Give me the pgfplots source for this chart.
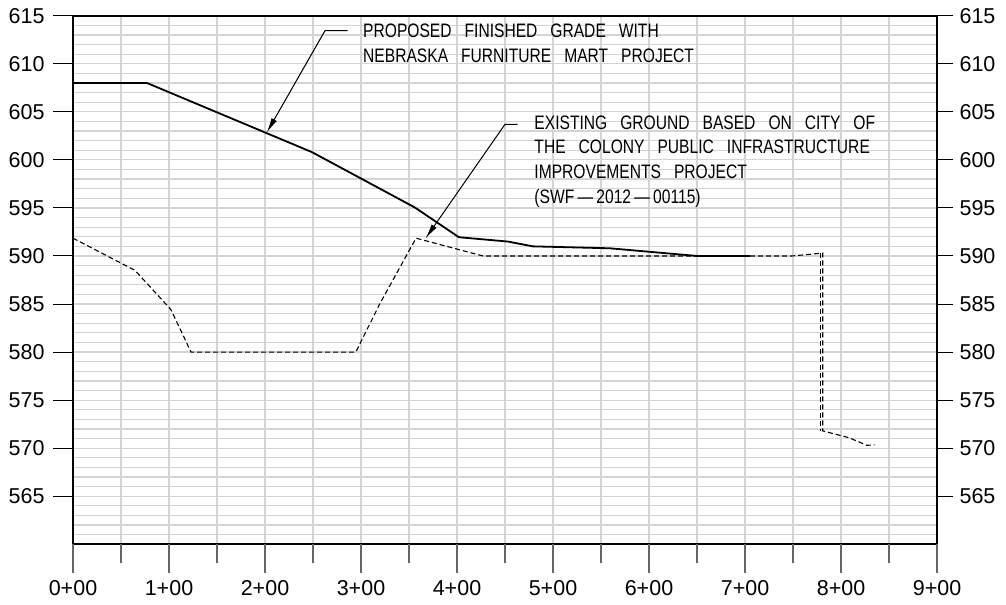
\documentclass[border=0pt]{standalone}
\usepackage{pgfplots}
\pgfplotsset{compat=1.18}
\usetikzlibrary{arrows.meta}
\usepackage{fontspec}
\setmainfont{Liberation Sans}
\newfontfamily\tickfont{Liberation Sans}
\newfontfamily\cadfont[FakeStretch=0.8,WordSpace=3]{Liberation Sans}

\pgfplotsset{
  prof/.style={width=864pt, height=528.6pt, scale only axis,
    xmin=0, xmax=9, ymin=560, ymax=615},
  lbl/.style={font=\tickfont\fontsize{21.5}{24}\selectfont},
}

\begin{document}
\begin{tikzpicture}
% grid, frame and profiles
\begin{axis}[prof,
  clip=false,
  axis line style={line width=1.8pt},
  xtick={0,0.5,...,9}, ytick={560,561,...,615},
  xticklabels={}, yticklabels={},
  major tick length=0pt,
  grid=major, grid style={line width=1.2pt, color=black!17},
]
% proposed finished grade
\addplot[black, line width=1.8pt] coordinates {
  (0,608) (0.77,608) (2.49,600.8) (3.56,595.05) (4.02,591.95) (4.53,591.5)
  (4.79,591.0) (5.59,590.8) (6.5,590.0) (7.05,590.0)};
% existing ground
\addplot[black, line width=1.1pt, dash pattern=on 5pt off 3pt] coordinates {
  (0,591.85) (0.646,588.5) (1.018,584.45) (1.23,580) (2.945,580) (3.2,585.1)
  (3.573,591.85) (4.27,590.0) (7.49,590.0) (7.81,590.3) (7.81,571.8)
  (8.08,571.1) (8.27,570.3) (8.35,570.35)};
\addplot[black, line width=1.1pt, dash pattern=on 5pt off 3pt] coordinates {
  (7.785,590.3) (7.785,571.8)};

% leaders
\draw[line width=1pt, -{Latex[length=15pt,width=6pt]}]
  (axis cs:2.861,613.44) -- (axis cs:2.625,613.44) -- (axis cs:2.018,602.83);
\draw[line width=1pt, -{Latex[length=15pt,width=6pt]}]
  (axis cs:4.632,603.70) -- (axis cs:4.5,603.70) -- (axis cs:3.672,591.82);
\node[anchor=base west, inner sep=0pt, align=left,
  font=\cadfont\fontsize{19.5}{24.7}\selectfont] at (axis cs:3.021,610.11)
  {PROPOSED FINISHED GRADE WITH\\NEBRASKA FURNITURE MART PROJECT};
\node[anchor=base west, inner sep=0pt, align=left,
  font=\cadfont\fontsize{19.5}{24.7}\selectfont] at (axis cs:4.805,595.47)
  {EXISTING GROUND BASED ON CITY OF\\THE COLONY PUBLIC INFRASTRUCTURE\\IMPROVEMENTS PROJECT\\(SWF\,—\,2012\,—\,00115)};
\end{axis}

% station ticks
\begin{axis}[prof,
  hide y axis, axis x line*=bottom,
  axis line style={draw=none},
  xtick={0,...,9}, minor x tick num=1,
  xticklabels={0+00,1+00,2+00,3+00,4+00,5+00,6+00,7+00,8+00,9+00},
  tick align=outside,
  major tick length=29pt, minor tick length=19pt,
  every tick/.style={line width=1.2pt, color=black!60},
  xticklabel style={lbl, yshift=-4pt},
]
\end{axis}

% left elevations
\begin{axis}[prof,
  hide x axis, axis y line*=left,
  axis line style={draw=none},
  ytick={565,570,...,615},
  yticklabels={565,570,575,580,585,590,595,600,605,610,615},
  tick align=outside, major tick length=20pt,
  every tick/.style={line width=1pt, color=black},
  yticklabel style={lbl, xshift=-5pt},
]
\end{axis}

% right elevations
\begin{axis}[prof,
  hide x axis, axis y line*=right,
  axis line style={draw=none},
  ytick={565,570,...,615},
  yticklabels={565,570,575,580,585,590,595,600,605,610,615},
  tick align=outside, major tick length=16pt,
  every tick/.style={line width=1pt, color=black},
  yticklabel style={lbl, xshift=3pt},
]
\end{axis}

\path ([xshift=-73pt,yshift=-59.7pt]current axis.south west)
  rectangle ([xshift=69pt,yshift=15.7pt]current axis.north east);
\end{tikzpicture}
\end{document}
